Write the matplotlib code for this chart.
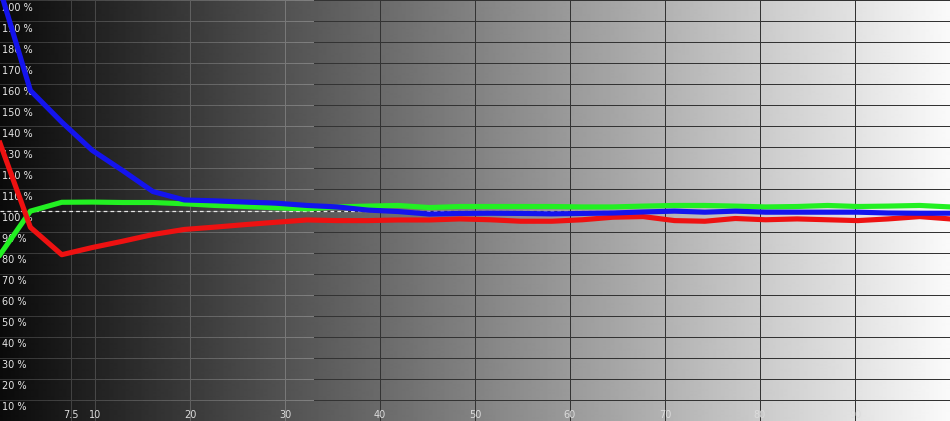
import numpy as np
import matplotlib
matplotlib.use("Agg")
import matplotlib.pyplot as plt
from matplotlib.collections import LineCollection

# ---- data -------------------------------------------------------------
x_levels = [0.0, 3.2, 6.5, 9.7, 12.9, 16.1, 19.4, 22.6, 25.8, 29.0, 32.3,
            35.5, 38.7, 41.9, 45.2, 48.4, 51.6, 54.8, 58.1, 61.3, 64.5,
            67.7, 71.0, 74.2, 77.4, 80.6, 83.9, 87.1, 90.3, 93.5, 96.8, 100.0]

red = [132, 92, 79, 82.4, 85.4, 88.6, 91, 92.1, 93.3, 94.4, 95.5,
       95.2, 95.2, 95.5, 95.5, 96, 95.6, 94.9, 94.9, 95.6, 96.8,
       97.1, 95.2, 94.9, 96.2, 95.6, 96, 95.6, 95.2, 96, 97.1, 96]

green = [79, 99.7, 103.9, 104, 103.8, 103.8, 103.2, 102.4, 101.9, 101.3, 100.8,
         101.7, 102.1, 102.4, 101.4, 101.9, 101.9, 101.9, 101.9, 101.7, 101.7,
         102.1, 102.4, 102.4, 102.1, 101.7, 101.9, 102.4, 101.9, 102.1, 102.4, 101.7]

blue = [205, 157, 142, 128.6, 119, 109, 105, 104.6, 104, 103.5, 102.4,
        101.7, 100.2, 99.5, 98.3, 98.6, 98.7, 98.6, 98.4, 98.6, 98.8,
        99.3, 99.7, 99.2, 99.7, 99.2, 99.2, 99.2, 99.2, 98.8, 98.7, 98.7]

x_ticks = [7.5, 10, 20, 30, 40, 50, 60, 70, 80, 90]
x_tick_labels = ["7.5", "10", "20", "30", "40", "50", "60", "70", "80", "90"]
y_ticks = list(range(10, 201, 10))
y_tick_labels = [f"{v} %" for v in y_ticks]
reference = 100

# ---- figure -----------------------------------------------------------
fig = plt.figure(figsize=(9.5, 4.21), dpi=100)
ax = fig.add_axes([0, 0, 1, 1])
ax.set_xlim(0, 100)
ax.set_ylim(0, 200)
ax.axis("off")

SPLIT = 33.0
GLW = 0.72  # one pixel

def bg(x):
    return 0.04 + 0.94 * np.asarray(x) / 100.0

def grid_col(x):
    b = float(bg(x))
    if x < SPLIT:
        g = b + 0.15
    else:
        g = 0.2
    return (g, g, g)

# background gradient
grad = bg(np.linspace(0, 100, 950))[None, :]
ax.imshow(grad, extent=[0, 100, 0, 200], aspect="auto", cmap="gray",
          vmin=0, vmax=1, interpolation="bilinear", zorder=0)

# horizontal grid lines (colour follows background on the dark side)
xs = np.linspace(0, SPLIT, 34)
for yv in y_ticks:
    segs = [[(xs[i], yv), (xs[i + 1], yv)] for i in range(len(xs) - 1)]
    cols = [grid_col((xs[i] + xs[i + 1]) / 2) for i in range(len(xs) - 1)]
    ax.add_collection(LineCollection(segs, colors=cols, linewidths=GLW,
                                     capstyle="projecting", antialiased=False,
                                     zorder=1))
    ax.plot([SPLIT, 100], [yv, yv], color=grid_col(50), lw=GLW,
            antialiased=False, zorder=1)

# vertical grid lines
for xv in x_ticks:
    ax.axvline(xv, color=grid_col(xv), lw=GLW, antialiased=False, zorder=1)

# reference dashed line
ax.axhline(reference, color="#e8e8e8", lw=0.9, ls=(0, (3, 2.5)), zorder=2)

# tick labels inside plot
for yv, lab in zip(y_ticks, y_tick_labels):
    ax.text(0.25, yv - 5.0, lab, fontsize=7, color="#e6e6e6", ha="left",
            va="baseline", family="DejaVu Sans", zorder=3)
for xv, lab in zip(x_ticks, x_tick_labels):
    ax.text(xv, 1.5, lab, fontsize=7, color="#dcdcdc", ha="center",
            va="baseline", family="DejaVu Sans", zorder=3)

# data lines
lw = 3.7
ax.plot(x_levels, green, color="#22f022", lw=lw, zorder=4, solid_joinstyle="round")
ax.plot(x_levels, red, color="#ee1111", lw=lw, zorder=5, solid_joinstyle="round")
ax.plot(x_levels, blue, color="#1414ee", lw=lw, zorder=6, solid_joinstyle="round")

fig.savefig("out.png", dpi=100)
